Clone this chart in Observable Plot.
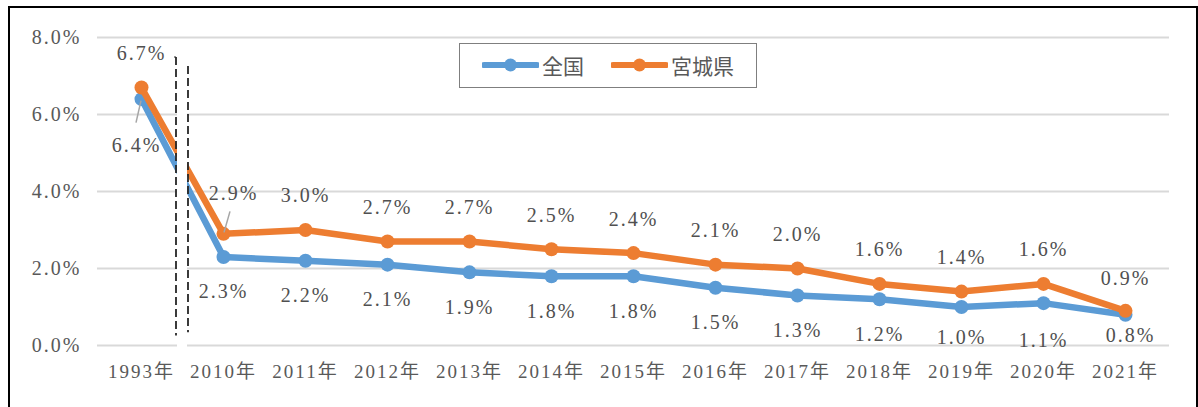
<!DOCTYPE html>
<html><head><meta charset="utf-8">
<script src="https://cdn.jsdelivr.net/npm/d3@7"></script>
<script src="https://cdn.jsdelivr.net/npm/@observablehq/plot@0.6"></script>
<style>
body{margin:0;background:#fff;}
#wrap{position:relative;width:1198px;height:407px;overflow:hidden;background:#fff;}
#frame{position:absolute;left:8px;top:6px;width:1190px;height:430px;border:2px solid #000;box-sizing:border-box;pointer-events:none;}
#legend{position:absolute;left:459px;top:43px;width:298px;height:45px;box-sizing:border-box;border:1.5px solid #7f7f7f;background:#fff;font-family:"Noto Sans CJK JP",sans-serif;font-size:21px;color:#595959;}
.item{position:absolute;top:0;height:42px;display:flex;align-items:center;}
.item svg{display:block;margin-right:3px;}
#chart{position:absolute;left:0;top:0;}
</style></head>
<body><div id="wrap"><div id="chart"></div><div id="legend"></div><div id="frame"></div></div>
<script>
const years = ["1993年","2010年","2011年","2012年","2013年","2014年","2015年","2016年","2017年","2018年","2019年","2020年","2021年"];
const national = [6.4, 2.3, 2.2, 2.1, 1.9, 1.8, 1.8, 1.5, 1.3, 1.2, 1.0, 1.1, 0.8];
const miyagi = [6.7, 2.9, 3.0, 2.7, 2.7, 2.5, 2.4, 2.1, 2.0, 1.6, 1.4, 1.6, 0.9];
const seriesNames = ["全国", "宮城県"];
const seriesColors = ["#5B9BD5", "#ED7D31"];
const yTicks = [0, 2, 4, 6, 8];

const rowsN = years.map((year, i) => ({year, value: national[i], series: seriesNames[0]}));
const rowsM = years.map((year, i) => ({year, value: miyagi[i], series: seriesNames[1]}));
const fmt = d => d.toFixed(1) + "%";

// label placement exceptions (offsets in px relative to point)
const specialN = {"1993年": [-5, 46], "2019年": [0, 31], "2020年": [0, 37], "2021年": [5, 21]};
const specialM = {"2010年": [10, -40], "2021年": [0, -32]};

const labelStyle = {fill: "#505050", fontSize: 20};

function labelMarks(rows, special, dyDefault) {
  const marks = [Plot.text(rows.filter(r => !(r.year in special)), {x: "year", y: "value", text: d => fmt(d.value), dy: dyDefault, ...labelStyle})];
  for (const [yr, [dx, dy]] of Object.entries(special)) {
    marks.push(Plot.text(rows.filter(r => r.year === yr), {x: "year", y: "value", text: d => fmt(d.value), dx, dy, ...labelStyle}));
  }
  return marks;
}

function breakMark(index, scales) {
  const x = scales.x, y = scales.y;
  const m = (x(years[0]) + x(years[1])) / 2;
  const g = d3.create("svg:g");
  g.append("rect").attr("x", m - 5).attr("width", 10).attr("y", y(7.5)).attr("height", y(-0.06) - y(7.5)).attr("fill", "#fff");
  g.append("line").attr("x1", m - 6).attr("x2", m - 6).attr("y1", y(7.48)).attr("y2", y(0.25))
    .attr("stroke", "#262626").attr("stroke-width", 1.8).attr("stroke-dasharray", "8,4");
  g.append("line").attr("x1", m - 8).attr("x2", m - 6).attr("y1", y(7.48)).attr("y2", y(7.48))
    .attr("stroke", "#262626").attr("stroke-width", 1);
  g.append("line").attr("x1", m + 6).attr("x2", m + 6).attr("y1", y(7.25)).attr("y2", y(0.33))
    .attr("stroke", "#262626").attr("stroke-width", 1.8).attr("stroke-dasharray", "8,4");
  return g.node();
}

function leaderMark(index, scales) {
  const x = scales.x, y = scales.y;
  const g = d3.create("svg:g").attr("stroke", "#a6a6a6").attr("stroke-width", 1.5);
  const px1 = x(years[0]), py1 = y(national[0]);
  g.append("line").attr("x1", px1 - 5).attr("y1", py1 + 24).attr("x2", px1).attr("y2", py1 + 2);
  const px2 = x(years[1]), py2 = y(miyagi[1]);
  g.append("line").attr("x1", px2 + 7).attr("y1", py2 - 22).attr("x2", px2 + 1).attr("y2", py2 - 1);
  return g.node();
}

const chart = Plot.plot({
  width: 1198,
  height: 407,
  marginTop: 37,
  marginBottom: 62,
  marginLeft: 97,
  marginRight: 29,
  style: {fontFamily: "'Liberation Serif', 'Noto Sans CJK JP', serif", fontSize: "20px", letterSpacing: "2px", background: "transparent"},
  x: {type: "point", domain: years, padding: 0.5},
  y: {domain: [0, 8]},
  marks: [
    Plot.gridY(yTicks, {stroke: "#d9d9d9", strokeOpacity: 1, strokeWidth: 2}),
    Plot.axisY(yTicks, {tickSize: 0, tickPadding: 16, tickFormat: fmt, fill: "#595959", label: null}),
    Plot.axisX({tickSize: 0, tickPadding: 19, fill: "#595959", label: null, fontSize: 19, letterSpacing: "1px"}),
    Plot.line(rowsN, {x: "year", y: "value", stroke: seriesColors[0], strokeWidth: 6.5, strokeLinejoin: "round", strokeLinecap: "round"}),
    Plot.dot(rowsN, {x: "year", y: "value", r: 7, fill: seriesColors[0]}),
    Plot.line(rowsM, {x: "year", y: "value", stroke: seriesColors[1], strokeWidth: 6.5, strokeLinejoin: "round", strokeLinecap: "round"}),
    Plot.dot(rowsM, {x: "year", y: "value", r: 7, fill: seriesColors[1]}),
    breakMark,
    leaderMark,
    ...labelMarks(rowsM, specialM, -34),
    ...labelMarks(rowsN, specialN, 35)
  ]
});
document.getElementById("chart").appendChild(chart);

// legend
const legend = document.getElementById("legend");
const itemLeft = [22, 151];
seriesNames.forEach((name, i) => {
  const item = document.createElement("div");
  item.className = "item";
  item.style.left = itemLeft[i] + "px";
  item.innerHTML = `<svg width="57" height="16"><line x1="2" x2="55" y1="8" y2="8" stroke="${seriesColors[i]}" stroke-width="6" stroke-linecap="round"/><circle cx="28.5" cy="8" r="6.5" fill="${seriesColors[i]}"/></svg><span>${name}</span>`;
  legend.appendChild(item);
});
</script></body></html>
